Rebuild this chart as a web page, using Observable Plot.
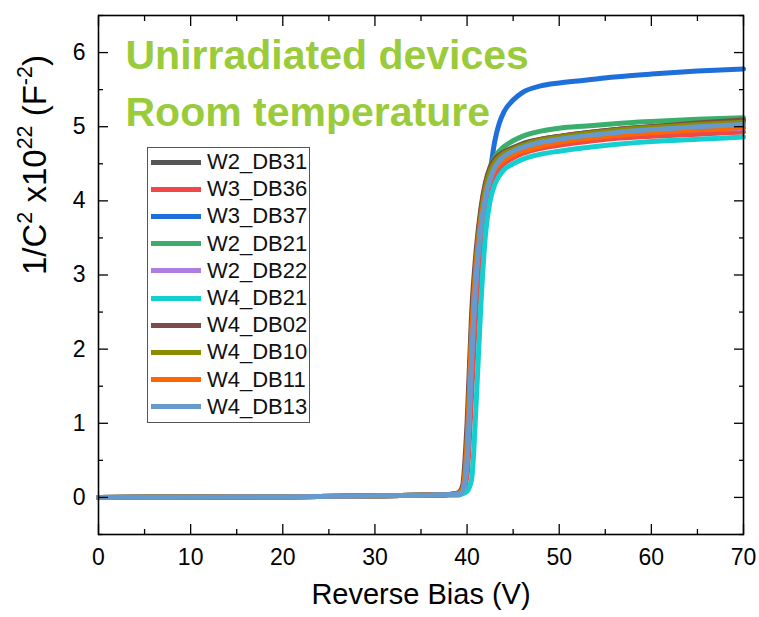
<!DOCTYPE html>
<html>
<head>
<meta charset="utf-8">
<script src="https://cdn.jsdelivr.net/npm/d3@7"></script>
<script src="https://cdn.jsdelivr.net/npm/@observablehq/plot@0.6"></script>
<style>
  body { margin: 0; background: #fff; font-family: "Liberation Sans", Arial, sans-serif; }
  #wrap { position: relative; width: 759px; height: 617px; }
  #legend { position: absolute; left: 147px; top: 147px; width: 163px; height: 276px;
            border: 1px solid #555; box-sizing: border-box; background: #fff; }
  .row { position: absolute; left: 3px; height: 26px; display: flex; align-items: center; }
  .sw { display: inline-block; width: 50px; height: 5px; }
  .lb { margin-left: 6px; font-size: 22px; line-height: 26px; color: #111; }
</style>
</head>
<body>
<div id="wrap"><div id="legend"></div></div>
<script>
// ---- data ----
const voltage = [0, 10, 20, 30, 35, 38, 39, 39.5, 40, 40.5, 41, 41.5, 42, 42.5, 43, 43.5, 44, 45, 46, 48, 50, 53, 56, 60, 65, 70];

const names  = ["W2_DB31","W3_DB36","W3_DB37","W2_DB21","W2_DB22","W4_DB21","W4_DB02","W4_DB10","W4_DB11","W4_DB13"];
const colors = ["#555555","#F04848","#1F6FDB","#3AAE6A","#B07EE0","#14CFCF","#7B4A4A","#8C8C00","#FF6600","#6699CC"];

const W2_DB31 = [0, 0.005, 0.01, 0.02, 0.03, 0.04, 0.05, 0.12, 0.8, 2.3, 3.25, 3.85, 4.22, 4.43, 4.55, 4.62, 4.66, 4.72, 4.77, 4.83, 4.87, 4.92, 4.96, 5.0, 5.04, 5.08];
const W3_DB36 = [0, 0.005, 0.01, 0.02, 0.03, 0.04, 0.04, 0.06, 0.3, 1.4, 2.6, 3.4, 3.9, 4.17, 4.33, 4.43, 4.5, 4.58, 4.64, 4.71, 4.75, 4.8, 4.84, 4.87, 4.9, 4.93];
const W3_DB37 = [0, 0.005, 0.01, 0.02, 0.03, 0.04, 0.05, 0.1, 0.7, 2.2, 3.2, 3.8, 4.15, 4.4, 4.8, 5.05, 5.2, 5.36, 5.46, 5.55, 5.59, 5.63, 5.67, 5.71, 5.75, 5.78];
const W2_DB21 = [0, 0.005, 0.01, 0.02, 0.03, 0.04, 0.05, 0.1, 0.7, 2.2, 3.2, 3.8, 4.2, 4.45, 4.59, 4.67, 4.73, 4.81, 4.87, 4.94, 4.98, 5.01, 5.04, 5.07, 5.1, 5.12];
const W2_DB22 = [0, 0.005, 0.01, 0.02, 0.03, 0.04, 0.05, 0.08, 0.5, 1.9, 3.0, 3.65, 4.05, 4.3, 4.43, 4.52, 4.57, 4.65, 4.7, 4.77, 4.81, 4.86, 4.9, 4.93, 4.96, 4.98];
const W4_DB21 = [0, 0.005, 0.01, 0.02, 0.03, 0.03, 0.03, 0.05, 0.08, 0.25, 1.3, 2.6, 3.55, 4.0, 4.22, 4.34, 4.42, 4.5, 4.56, 4.63, 4.67, 4.72, 4.76, 4.8, 4.83, 4.86];
const W4_DB02 = [0, 0.005, 0.01, 0.02, 0.03, 0.04, 0.06, 0.15, 1.0, 2.5, 3.35, 3.9, 4.25, 4.45, 4.56, 4.62, 4.66, 4.71, 4.76, 4.83, 4.87, 4.92, 4.96, 5.0, 5.05, 5.09];
const W4_DB10 = [0, 0.005, 0.01, 0.02, 0.03, 0.04, 0.05, 0.11, 0.75, 2.2, 3.2, 3.8, 4.18, 4.4, 4.52, 4.59, 4.64, 4.7, 4.75, 4.82, 4.86, 4.91, 4.95, 4.99, 5.03, 5.06];
const W4_DB11 = [0, 0.005, 0.01, 0.02, 0.03, 0.04, 0.05, 0.1, 0.7, 2.2, 3.15, 3.72, 4.08, 4.3, 4.42, 4.5, 4.55, 4.62, 4.67, 4.74, 4.79, 4.84, 4.88, 4.92, 4.96, 4.99];
const W4_DB13 = [0, 0.005, 0.01, 0.02, 0.03, 0.04, 0.04, 0.08, 0.5, 1.9, 3.0, 3.65, 4.05, 4.3, 4.45, 4.54, 4.6, 4.67, 4.72, 4.79, 4.83, 4.88, 4.92, 4.96, 5.0, 5.03];

const seriesValues = [W2_DB31, W3_DB36, W3_DB37, W2_DB21, W2_DB22, W4_DB21, W4_DB02, W4_DB10, W4_DB11, W4_DB13];

const xMajor = [0, 10, 20, 30, 40, 50, 60, 70];
const xMinor = [5, 15, 25, 35, 45, 55, 65];
const yMajor = [0, 1, 2, 3, 4, 5, 6];
const yMinor = [-0.5, 0.5, 1.5, 2.5, 3.5, 4.5, 5.5, 6.5];

const xTitle = "Reverse Bias (V)";
const yTitleParts = [["1/C", false], ["2", true], [" x10", false], ["22", true], [" (F", false], ["-2", true], [")", false]];
const yTitle = yTitleParts.map(d => d[0]).join("");
const annotation = "Unirradiated devices\nRoom temperature";

// ---- table ----
const rows = [];
names.forEach((n, i) => voltage.forEach((v, j) => rows.push({V: v, C: seriesValues[i][j], s: n})));

const font = "Liberation Sans, Arial, sans-serif";
const intFmt = d3.format("d");
const YF = 33;
const chart = Plot.plot({
  width: 759, height: 617,
  marginLeft: 98, marginRight: 16, marginTop: 15, marginBottom: 83,
  x: {domain: [0, 70]},
  y: {domain: [-0.5, 6.5]},
  color: {domain: names, range: colors},
  style: {fontFamily: font, background: "white", color: "black"},
  marks: [
    Plot.line(rows, {x: "V", y: "C", z: "s", stroke: "s", strokeWidth: 5, curve: "monotone-x", strokeLinejoin: "round"}),
    Plot.frame({stroke: "black", strokeWidth: 1.6}),
    Plot.axisX(xMajor, {anchor: "bottom", tickSize: -10, tickPadding: 24, fontSize: 23, label: null, strokeWidth: 1.3, tickFormat: intFmt}),
    Plot.axisX(xMinor, {anchor: "bottom", tickSize: -5, fill: "none", label: null, strokeWidth: 1.3}),
    Plot.axisX(xMajor, {anchor: "top", tickSize: -10, fill: "none", label: null, strokeWidth: 1.3}),
    Plot.axisX(xMinor, {anchor: "top", tickSize: -5, fill: "none", label: null, strokeWidth: 1.3}),
    Plot.axisY(yMajor, {anchor: "left", tickSize: -10, tickPadding: 23, fontSize: 23, label: null, strokeWidth: 1.3, tickFormat: intFmt}),
    Plot.axisY(yMinor, {anchor: "left", tickSize: -5, fill: "none", label: null, strokeWidth: 1.3}),
    Plot.axisY(yMajor, {anchor: "right", tickSize: -10, fill: "none", label: null, strokeWidth: 1.3}),
    Plot.axisY(yMinor, {anchor: "right", tickSize: -5, fill: "none", label: null, strokeWidth: 1.3}),
    Plot.text([xTitle], {frameAnchor: "bottom", dy: 69, fontSize: 29, fill: "black"}),
    Plot.text([yTitle], {frameAnchor: "left", dx: -63, rotate: -90, fontSize: YF, fill: "black"}),
    Plot.text([annotation], {frameAnchor: "top-left", dx: 27, dy: 110, textAnchor: "start", lineAnchor: "bottom",
      lineHeight: 1.39, fontSize: 41, fontWeight: "bold", fill: "#9ACB3A"})
  ]
});

// superscripts in y title
const ns = "http://www.w3.org/2000/svg";
chart.querySelectorAll("text").forEach(t => {
  if (t.textContent === yTitle) {
    t.textContent = "";
    let raised = false;
    yTitleParts.forEach(([s, sup]) => {
      const ts = document.createElementNS(ns, "tspan");
      ts.textContent = s;
      if (sup) { ts.setAttribute("font-size", (YF * 0.65) + "px"); ts.setAttribute("dy", (-0.42 * YF) + "px"); raised = true; }
      else if (raised) { ts.setAttribute("dy", (0.42 * YF) + "px"); raised = false; }
      t.appendChild(ts);
    });
  }
});

const wrap = document.getElementById("wrap");
wrap.insertBefore(chart, wrap.firstChild);

// legend
const leg = document.getElementById("legend");
names.forEach((n, i) => {
  const row = document.createElement("div");
  row.className = "row";
  row.style.top = (14 + i * 27.2 - 13) + "px";
  row.innerHTML = `<span class="sw" style="background:${colors[i]}"></span><span class="lb">${n}</span>`;
  leg.appendChild(row);
});
</script>
</body>
</html>
